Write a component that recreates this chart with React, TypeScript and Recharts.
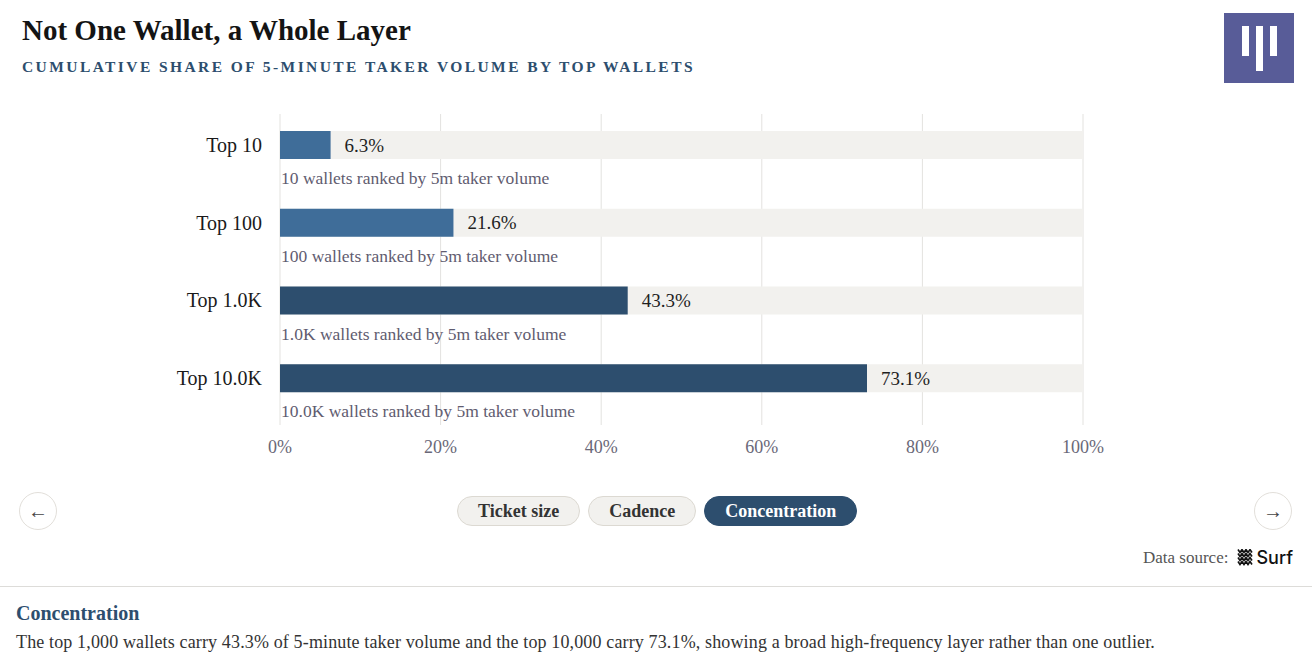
import React from 'react';
import { BarChart, Bar, XAxis, YAxis, CartesianGrid, Cell, LabelList } from 'recharts';

const categories = ['Top 10', 'Top 100', 'Top 1.0K', 'Top 10.0K'];
const shares = [6.3, 21.6, 43.3, 73.1];
const subLabels = [
  '10 wallets ranked by 5m taker volume',
  '100 wallets ranked by 5m taker volume',
  '1.0K wallets ranked by 5m taker volume',
  '10.0K wallets ranked by 5m taker volume',
];
const barColors = ['#3f6d99', '#3f6d99', '#2d4e6e', '#2d4e6e'];
const xTicks = [0, 20, 40, 60, 80, 100];
const tabs = ['Ticket size', 'Cadence', 'Concentration'];
const activeTab = 'Concentration';

const data = categories.map((name, i) => ({ name, share: shares[i], sub: subLabels[i], color: barColors[i] }));

const SERIF = '"Liberation Serif", "DejaVu Serif", serif';
const SHIFT = -8;

const BarShape = (p: any) => (
  <rect x={p.x} y={p.y + SHIFT} width={Math.max(0, p.width)} height={p.height} fill={p.payload?.color || p.fill} />
);
const TrackShape = (p: any) => (
  <rect x={p.x} y={p.y + SHIFT} width={p.width} height={p.height} fill="#f2f1ee" />
);

const ValueLabel = (p: any) => (
  <text x={p.x + p.width + 14} y={p.y + p.height / 2 + SHIFT} dominantBaseline="central" fontSize={19} fill="#1f1f1f" fontFamily={SERIF}>
    {p.value}%
  </text>
);
const SubLabel = (p: any) => (
  <text x={p.x + 1} y={p.y + p.height / 2 + SHIFT + 33} dominantBaseline="central" fontSize={17.5} fill="#5f5c70" fontFamily={SERIF}>
    {p.value}
  </text>
);
const YTick = (p: any) => (
  <text x={p.x} y={p.y + SHIFT} textAnchor="end" dominantBaseline="central" fontSize={20} fill="#1a1a1a" fontFamily={SERIF}>
    {p.payload.value}
  </text>
);

const circleBtn = (left: number, label: string) => (
  <div
    style={{
      position: 'absolute', left, top: 492, width: 38, height: 38, borderRadius: '50%',
      border: '1px solid #e2dfda', display: 'flex', alignItems: 'center', justifyContent: 'center',
      fontSize: 20, color: '#444', background: '#fff', boxSizing: 'border-box',
    }}
  >
    {label}
  </div>
);

const SurfIcon = () => (
  <svg width={17} height={17} viewBox="0 0 17 17">
    {[2, 6, 10, 14].map((y) => (
      <polyline key={y} points={`1,${y - 1.5} 3,${y + 1.5} 5,${y - 1.5} 7,${y + 1.5} 9,${y - 1.5} 11,${y + 1.5} 13,${y - 1.5} 15,${y + 1.5}`} fill="none" stroke="#111" strokeWidth={1.6} />
    ))}
  </svg>
);

export default function App() {
  return (
    <div style={{ position: 'absolute', left: 0, top: 0, width: 1312, height: 672, background: '#fff', fontFamily: SERIF, overflow: 'hidden' }}>
      <div style={{ position: 'absolute', left: 22, top: 12, fontSize: 29, fontWeight: 700, color: '#141414', lineHeight: '36px', whiteSpace: 'nowrap' }}>
        Not One Wallet, a Whole Layer
      </div>
      <div style={{ position: 'absolute', left: 22, top: 58, fontSize: 15.5, fontWeight: 700, color: '#2d4e6e', letterSpacing: 2.42, lineHeight: '18px', whiteSpace: 'nowrap' }}>
        CUMULATIVE SHARE OF 5-MINUTE TAKER VOLUME BY TOP WALLETS
      </div>
      <div style={{ position: 'absolute', left: 1224, top: 13, width: 70, height: 70, background: '#585c98' }}>
        <div style={{ position: 'absolute', left: 18, top: 13, width: 7, height: 30, background: '#fff' }} />
        <div style={{ position: 'absolute', left: 32, top: 13, width: 7, height: 45, background: '#fff' }} />
        <div style={{ position: 'absolute', left: 46, top: 13, width: 7, height: 30, background: '#fff' }} />
      </div>

      <div style={{ position: 'absolute', left: 0, top: 0 }}>
        <BarChart width={1312} height={470} data={data} layout="vertical" margin={{ top: 114, right: 229, bottom: 15, left: 80 }} barSize={28}>
          <CartesianGrid horizontal={false} stroke="#e3e2df" />
          <XAxis type="number" domain={[0, 100]} ticks={xTicks} tickFormatter={(v) => `${v}%`} axisLine={false} tickLine={false} height={30} tickMargin={9}
            tick={{ fill: '#6a6878', fontSize: 18, fontFamily: SERIF }} />
          <YAxis type="category" dataKey="name" width={200} axisLine={false} tickLine={false} tickMargin={12} tick={<YTick />} />
          <Bar dataKey="share" isAnimationActive={false} background={TrackShape} shape={BarShape}>
            {data.map((d, i) => (
              <Cell key={i} fill={d.color} />
            ))}
            <LabelList dataKey="share" content={<ValueLabel />} />
            <LabelList dataKey="sub" content={<SubLabel />} />
          </Bar>
        </BarChart>
      </div>

      {circleBtn(19, '←')}
      {circleBtn(1254, '→')}

      <div style={{ position: 'absolute', left: 457, top: 496, display: 'flex', gap: 8 }}>
        {tabs.map((t) => {
          const active = t === activeTab;
          return (
            <div key={t} style={{
              height: 30, boxSizing: 'border-box', padding: '0 20px', borderRadius: 15, display: 'flex', alignItems: 'center',
              background: active ? '#2d4e6e' : '#f2f1ee', border: active ? '1px solid #2d4e6e' : '1px solid #dcd9d2',
              color: active ? '#fff' : '#333', fontWeight: 700, fontSize: 18, whiteSpace: 'nowrap',
            }}>{t}</div>
          );
        })}
      </div>

      <div style={{ position: 'absolute', right: 19, top: 547, display: 'flex', alignItems: 'center', gap: 9 }}>
        <span style={{ fontSize: 17, color: '#555' }}>Data source:</span>
        <SurfIcon />
        <span style={{ fontFamily: 'Inter, "Noto Sans", sans-serif', fontSize: 18, color: '#111', marginLeft: -7, fontWeight: 500 }}>Surf</span>
      </div>

      <div style={{ position: 'absolute', left: 0, top: 586, width: 1312, height: 1, background: '#dddcd9' }} />

      <div style={{ position: 'absolute', left: 16, top: 601, fontSize: 20, fontWeight: 700, color: '#2d4e6e', lineHeight: '24px' }}>Concentration</div>
      <div style={{ position: 'absolute', left: 16, top: 630, fontSize: 18, letterSpacing: 0.14, color: '#333', lineHeight: '24px', whiteSpace: 'nowrap' }}>
        The top 1,000 wallets carry 43.3% of 5-minute taker volume and the top 10,000 carry 73.1%, showing a broad high-frequency layer rather than one outlier.
      </div>
    </div>
  );
}
